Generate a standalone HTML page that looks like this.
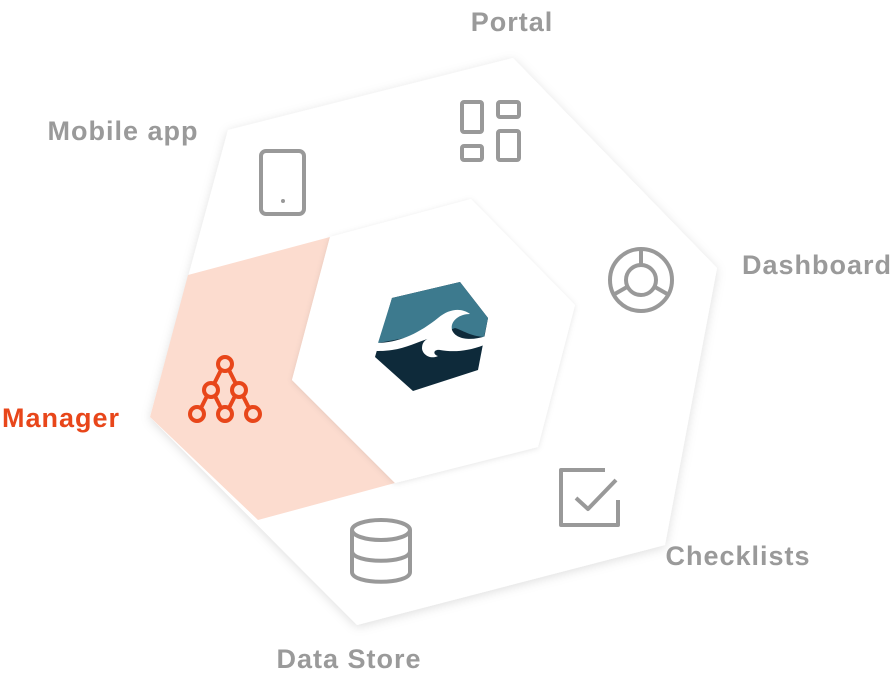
<!DOCTYPE html>
<html><head><meta charset="utf-8"><style>
html,body{margin:0;padding:0;background:#fff;}
svg{display:block}
text{font-family:"Liberation Sans",sans-serif;font-weight:bold;font-size:27px;letter-spacing:1px;fill:#9a9a9a}
</style></head><body>
<svg width="896" height="680" viewBox="0 0 896 680">
<defs>
<filter id="sh" x="-10%" y="-10%" width="120%" height="120%"><feDropShadow dx="0" dy="2" stdDeviation="5" flood-color="#000" flood-opacity="0.13"/></filter>
<filter id="sh2" x="-10%" y="-10%" width="120%" height="120%"><feDropShadow dx="0" dy="1" stdDeviation="3" flood-color="#000" flood-opacity="0.10"/></filter>
</defs>
<polygon points="228,130 513,58 717,268 665,545 357,625 150,417" fill="#fff" filter="url(#sh)"/>
<polygon points="188,275 330,237 292,380 395,483 258,520 150,417" fill="#fcdccf"/>
<polygon points="330,237 471,199 575,305 538,447 395,483 292,380" fill="#fff" filter="url(#sh2)"/>
<!-- logo -->
<polygon points="392,298 460,282 488,318 478,370 413,391 375,357" fill="#0e2a3a"/>
<path d="M392,298 L460,282 L488,318 L484,337 C470,336 462,330 455,328 C445,332 430,336 410,337 L378,343 Z" fill="#3d7a8e"/>
<path d="M376,343 C398,343 418,334 438,318 C450,308 462,308 470,314 C458,314 450,322 452,330 C456,340 472,341 486,336 L484,345 C466,352 452,352 440,350 C434,349 432,354 438,356 C430,360 422,354 422,348 C422,342 426,339 430,338 C418,342 406,348 392,350 C386,351 380,351 375,351 Z" fill="#fff"/>
<!-- labels -->
<text x="512" y="31" text-anchor="middle">Portal</text>
<text x="123" y="140" text-anchor="middle">Mobile app</text>
<text x="817" y="274" text-anchor="middle">Dashboard</text>
<text x="61" y="427" text-anchor="middle" style="fill:#e8461a">Manager</text>
<text x="738" y="565" text-anchor="middle">Checklists</text>
<text x="349" y="668" text-anchor="middle">Data Store</text>
<!-- icons -->
<g fill="none" stroke="#999" stroke-width="4" stroke-linejoin="round">
<rect x="261" y="151" width="43" height="63" rx="5"/>
<rect x="462" y="102" width="20" height="30" rx="2"/>
<rect x="498" y="102" width="21" height="15" rx="2"/>
<rect x="462" y="146" width="20" height="14" rx="2"/>
<rect x="498" y="131" width="21" height="29" rx="2"/>
<circle cx="641" cy="280" r="31"/>
<circle cx="641" cy="280" r="15"/>
<line x1="641" y1="249" x2="641" y2="265"/>
<line x1="627" y1="287" x2="613" y2="295"/>
<line x1="655" y1="287" x2="669" y2="295"/>
<path d="M605,470 L561,470 L561,525 L618,525 L618,500"/>
<path d="M576,498 L588,509 L616,480"/>
<ellipse cx="381" cy="530" rx="29" ry="10"/>
<path d="M352,530 L352,572 C352,585 410,585 410,572 L410,530"/>
<path d="M352,551 C352,564 410,564 410,551"/>
</g>
<circle cx="283" cy="201" r="2" fill="#999"/>
<g fill="none" stroke="#e8461a" stroke-width="4">
<circle cx="225" cy="364" r="7"/>
<circle cx="211" cy="390" r="7"/>
<circle cx="239" cy="390" r="7"/>
<circle cx="197" cy="414" r="7"/>
<circle cx="225" cy="414" r="7"/>
<circle cx="253" cy="414" r="7"/>
<path d="M221,370 L214,384 M229,370 L236,384 M207,396 L201,408 M215,396 L221,408 M235,396 L229,408 M243,396 L249,408"/>
</g>
</svg>
</body></html>
